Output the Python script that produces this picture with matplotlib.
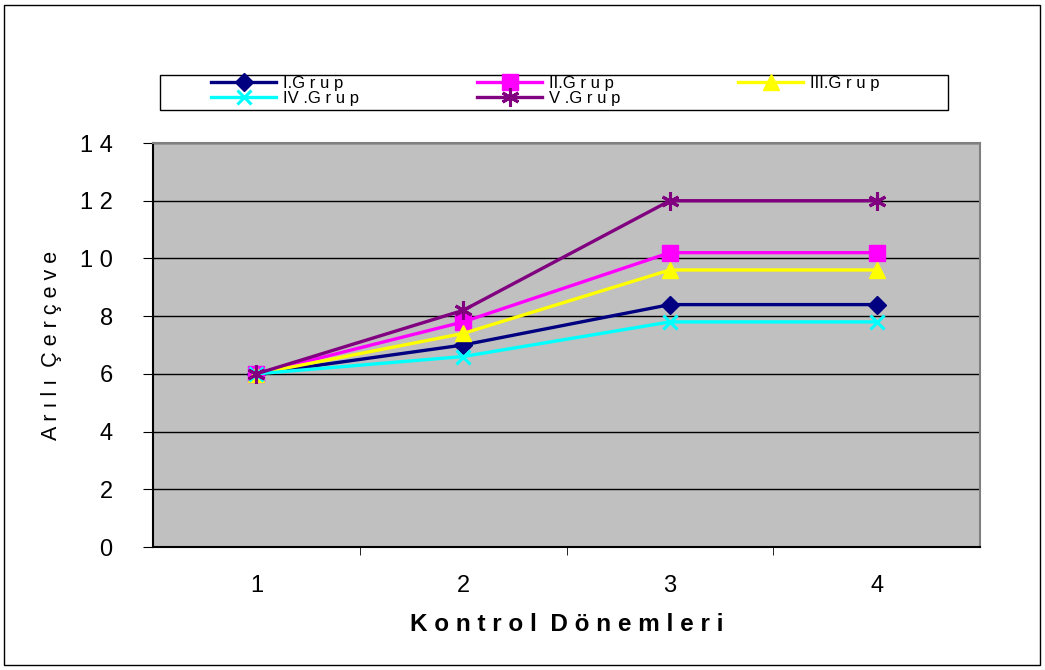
import matplotlib
matplotlib.use('Agg')
import matplotlib.pyplot as plt
from matplotlib.patches import Rectangle

# veriler
donemler = [1, 2, 3, 4]
grup_adlari = ['I.G r u p', 'II.G r u p', 'III.G r u p', 'IV .G r u p', 'V .G r u p']
grup1 = [6, 7.0, 8.4, 8.4]
grup2 = [6, 7.8, 10.2, 10.2]
grup3 = [6, 7.4, 9.6, 9.6]
grup4 = [6, 6.6, 7.8, 7.8]
grup5 = [6, 8.2, 12, 12]
y_ticks = [0, 2, 4, 6, 8, 10, 12, 14]

plt.rcParams['font.family'] = ['Liberation Sans', 'DejaVu Sans']

W, H = 1045, 670
fig = plt.figure(figsize=(W / 100, H / 100), dpi=100)
fig.patches.append(Rectangle((0.004, 0.007), 0.991, 0.986, transform=fig.transFigure,
                             fill=False, edgecolor='black', linewidth=1))
# lejant cercevesi
fig.patches.append(Rectangle((160 / W, 1 - 110 / H), (948 - 160) / W, 35 / H,
                             transform=fig.transFigure, fill=False,
                             edgecolor='black', linewidth=1))

ax = fig.add_axes([153 / W, 1 - 547 / H, (980 - 153) / W, (547 - 143) / H])
ax.set_facecolor('#C0C0C0')

seriler = [grup1, grup2, grup3, grup4, grup5]
renkler = ['#000080', '#FF00FF', '#FFFF00', '#00FFFF', '#800080']
isaretler = ['D', 's', '^', 'x', (6, 2, 0)]
boyutlar = [9, 11, 11, 10, 13]

hatlar = {}
for i in [3, 0, 2, 1, 4]:
    ln, = ax.plot(donemler, seriler[i], color=renkler[i], marker=isaretler[i],
                  markersize=boyutlar[i], linewidth=2.4,
                  markeredgewidth=2.2 if i >= 3 else 1, markeredgecolor=renkler[i],
                  label=grup_adlari[i], clip_on=False, zorder=3 + i)
    hatlar[i] = ln

ax.set_xlim(0.5, 4.5)
ax.set_ylim(0, 14)
ax.set_yticks(y_ticks)
ax.set_yticklabels([' '.join(str(v)) for v in y_ticks], fontsize=17)
ax.set_xticks(donemler)
ax.set_xticklabels([str(d) for d in donemler], fontsize=17)
ax.set_xticks([1.5, 2.5, 3.5], minor=True)
ax.tick_params(axis='x', which='major', length=0, pad=20)
ax.tick_params(axis='x', which='minor', length=6, direction='out', color='black')
ax.tick_params(axis='y', length=7, direction='out', color='black', pad=22)
ax.grid(axis='y', color='black', linewidth=1)
ax.set_axisbelow(True)
for s in ax.spines.values():
    s.set_color('#808080')
    s.set_linewidth(1.5)
ax.spines['bottom'].set_color('black')
ax.spines['left'].set_color('black')

ax.set_ylabel('A r ı l ı  Ç e r ç e v e', fontsize=15.5, labelpad=13)
ax.set_xlabel('K o n t r o l  D ö n e m l e r i', fontsize=17.5, fontweight='bold', labelpad=12)

# lejant: satir sirasi I, II, III / IV, V
sira = [0, 3, 1, 4, 2]
leg = fig.legend([hatlar[i] for i in sira], [grup_adlari[i] for i in sira], ncol=3,
                 loc='upper left', bbox_to_anchor=(211 / W, 1 - 76 / H),
                 fontsize=12, frameon=False,
                 handlelength=3.9, columnspacing=7.1, labelspacing=0.0,
                 borderpad=0, handletextpad=0.4, borderaxespad=0)

fig.savefig('out.png', dpi=100)
